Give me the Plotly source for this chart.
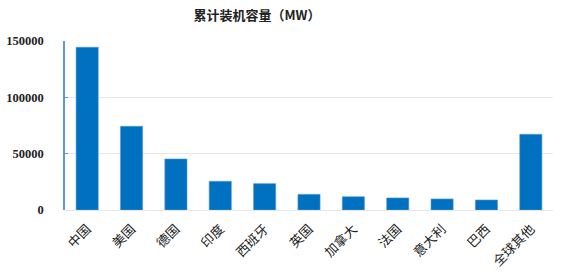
import plotly.graph_objects as go

categories = ["中国", "美国", "德国", "印度", "西班牙", "英国", "加拿大", "法国", "意大利", "巴西", "全球其他"]
values = [144500, 74300, 45300, 25500, 23400, 13900, 11800, 10700, 9800, 8900, 67200]
y_ticks = [0, 50000, 100000, 150000]

fig = go.Figure(go.Bar(
    x=categories, y=values,
    marker=dict(color="#0070C0", line=dict(color="#5B9BD5", width=0.6)),
))
fig.update_layout(
    width=569, height=279,
    margin=dict(l=65, r=16, t=41, b=69),
    paper_bgcolor="white", plot_bgcolor="white",
    bargap=0.5,
    showlegend=False,
    title=dict(text="累计装机容量（MW）", x=257/569, xanchor="center", y=1-15/279, yanchor="middle",
               font=dict(family="Noto Sans CJK SC", size=13, color="#222", weight="bold")),
)
fig.update_xaxes(
    tickangle=-45, tickfont=dict(family="Noto Sans CJK SC", size=13, color="#222"),
    showline=False, ticks="", showgrid=False, automargin=False,
    ticklabelstandoff=8,
)
fig.update_yaxes(
    range=[0, 150000], tickvals=y_ticks, ticktext=[str(v) for v in y_ticks],
    tickfont=dict(family="Liberation Serif", size=12.5, color="#222", weight="bold"),
    showline=True, linecolor="#5B9BD5", linewidth=1.5,
    ticks="inside", ticklen=3, tickcolor="#5B9BD5",
    showgrid=True, gridcolor="#E6E8EE", gridwidth=1,
    zeroline=True, zerolinecolor="#E6E8EE", zerolinewidth=1,
    ticklabelstandoff=17, automargin=False,
)
fig.write_html("out.html")
